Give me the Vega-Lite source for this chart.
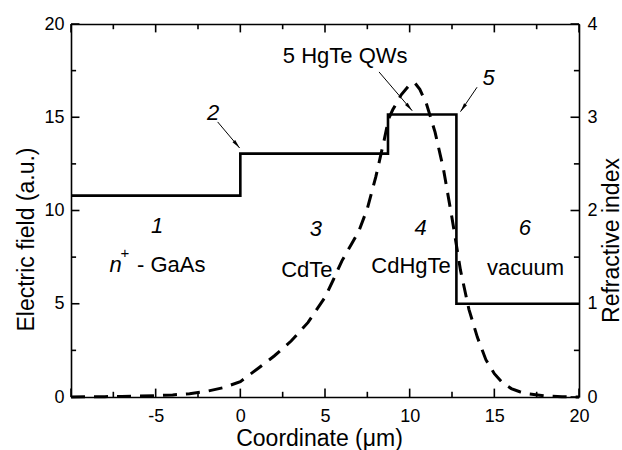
{
  "$schema": "https://vega.github.io/schema/vega-lite/v6.json",
  "width": 508,
  "height": 373,
  "autosize": {"type": "none"},
  "padding": {"left": 71, "top": 24, "right": 43, "bottom": 53},
  "background": "white",
  "config": {
    "view": {"stroke": null},
    "axis": {
      "labelFont": "Liberation Sans", "labelFontSize": 18, "labelColor": "black",
      "titleFont": "Liberation Sans", "titleFontSize": 23, "titleFontWeight": "normal", "titleColor": "black",
      "domainColor": "black", "domainWidth": 1.6, "ticks": false,
      "grid": false, "labelFlush": false, "labelOverlap": false
    },
    "text": {"font": "Liberation Sans", "fontSize": 22, "color": "black", "baseline": "alphabetic"}
  },
  "datasets": {
    "field": [
      {"x": -10, "E": 0}, {"x": -9, "E": 0.01}, {"x": -8, "E": 0.02}, {"x": -7, "E": 0.03},
      {"x": -6, "E": 0.05}, {"x": -5, "E": 0.07}, {"x": -4, "E": 0.11}, {"x": -3, "E": 0.18},
      {"x": -2, "E": 0.3}, {"x": -1, "E": 0.5}, {"x": 0, "E": 0.82}, {"x": 1, "E": 1.5},
      {"x": 2, "E": 2.2}, {"x": 3, "E": 3.0}, {"x": 4, "E": 4.0}, {"x": 5, "E": 5.35},
      {"x": 5.5, "E": 6.3}, {"x": 6, "E": 7.3}, {"x": 6.5, "E": 8.1}, {"x": 7, "E": 8.9},
      {"x": 7.5, "E": 10.1}, {"x": 8, "E": 11.8}, {"x": 8.5, "E": 13.8}, {"x": 8.75, "E": 14.9},
      {"x": 9, "E": 15.4}, {"x": 9.5, "E": 16.2}, {"x": 10, "E": 16.75}, {"x": 10.3, "E": 16.85},
      {"x": 10.6, "E": 16.5}, {"x": 11, "E": 15.7}, {"x": 11.5, "E": 14.2}, {"x": 12, "E": 12.2},
      {"x": 12.5, "E": 9.6}, {"x": 13, "E": 6.8}, {"x": 13.5, "E": 4.7}, {"x": 14, "E": 3.2},
      {"x": 14.5, "E": 2.0}, {"x": 15, "E": 1.25}, {"x": 15.5, "E": 0.75}, {"x": 16, "E": 0.45},
      {"x": 16.5, "E": 0.28}, {"x": 17, "E": 0.17}, {"x": 18, "E": 0.06}, {"x": 19, "E": 0.02},
      {"x": 20, "E": 0}
    ],
    "index": [
      {"o": 1, "x": -10, "n": 2.16}, {"o": 2, "x": 0, "n": 2.16}, {"o": 3, "x": 0, "n": 2.61},
      {"o": 4, "x": 8.72, "n": 2.61}, {"o": 5, "x": 8.72, "n": 3.03}, {"o": 6, "x": 12.76, "n": 3.03},
      {"o": 7, "x": 12.76, "n": 1.0}, {"o": 8, "x": 20, "n": 1.0}
    ],
    "xmajor": [{"v": -10}, {"v": -5}, {"v": 0}, {"v": 5}, {"v": 10}, {"v": 15}, {"v": 20}],
    "xminor": [{"v": -7.5}, {"v": -2.5}, {"v": 2.5}, {"v": 7.5}, {"v": 12.5}, {"v": 17.5}],
    "ymajor": [{"v": 0}, {"v": 5}, {"v": 10}, {"v": 15}, {"v": 20}],
    "yminor": [{"v": 2.5}, {"v": 7.5}, {"v": 12.5}, {"v": 17.5}],
    "arrows": [
      {"id": "2", "x": -1.34, "y": 14.75, "x2": -0.04, "y2": 13.35},
      {"id": "qw", "x": 8.19, "y": 17.43, "x2": 10.15, "y2": 15.35},
      {"id": "5", "x": 13.98, "y": 16.61, "x2": 13.0, "y2": 15.3}
    ],
    "numbers": [
      {"label": "1", "x": -4.92, "y": 8.79},
      {"label": "2", "x": -1.6, "y": 14.85},
      {"label": "3", "x": 4.46, "y": 8.63},
      {"label": "4", "x": 10.64, "y": 8.69},
      {"label": "5", "x": 14.66, "y": 16.73},
      {"label": "6", "x": 16.81, "y": 8.69}
    ],
    "labels": [
      {"label": "5 HgTe QWs", "x": 6.19, "y": 17.91},
      {"label": "CdTe", "x": 3.93, "y": 6.43},
      {"label": "CdHgTe", "x": 10.08, "y": 6.65},
      {"label": "vacuum", "x": 16.84, "y": 6.54}
    ]
  },
  "resolve": {"scale": {"y": "independent"}, "axis": {"x": "independent", "y": "independent"}},
  "layer": [
    {
      "data": {"name": "field"},
      "mark": {"type": "line", "color": "black", "strokeWidth": 3, "strokeDash": [14, 9], "strokeCap": "butt"},
      "encoding": {
        "x": {"field": "x", "type": "quantitative", "scale": {"domain": [-10, 20], "nice": false},
          "axis": {"orient": "bottom", "title": "Coordinate (μm)",
            "values": [-5, 0, 5, 10, 15, 20],
            "labelExpr": "'' + datum.value",
            "labelPadding": 10,
            "titleX": 248, "titleY": 48, "titleBaseline": "alphabetic", "titleAlign": "center"}},
        "y": {"field": "E", "type": "quantitative", "scale": {"domain": [0, 20], "nice": false},
          "axis": {"orient": "left", "title": "Electric field (a.u.)",
            "values": [0, 5, 10, 15, 20],
            "labelPadding": 7,
            "titleAngle": -90, "titleX": -38, "titleY": 215, "titleBaseline": "alphabetic", "titleAlign": "center"}}
      }
    },
    {
      "data": {"name": "index"},
      "mark": {"type": "line", "color": "black", "strokeWidth": 2.6},
      "encoding": {
        "x": {"field": "x", "type": "quantitative", "scale": {"domain": [-10, 20], "nice": false}, "axis": null},
        "y": {"field": "n", "type": "quantitative", "scale": {"domain": [0, 4], "nice": false},
          "axis": {"orient": "right", "title": "Refractive index",
            "values": [0, 1, 2, 3, 4],
            "labelExpr": "'' + datum.value",
            "labelPadding": 8,
            "titleAngle": -90, "titleX": 39, "titleY": 216, "titleBaseline": "alphabetic", "titleAlign": "center"}},
        "order": {"field": "o", "type": "quantitative"}
      }
    },
    {
      "data": {"name": "xmajor"},
      "mark": {"type": "rule", "color": "black", "strokeWidth": 1.6},
      "encoding": {
        "x": {"field": "v", "type": "quantitative", "scale": {"domain": [-10, 20], "nice": false}, "axis": null},
        "y": {"datum": 0, "type": "quantitative", "scale": {"domain": [0, 20], "nice": false}, "axis": null},
        "y2": {"datum": 0.45}
      }
    },
    {
      "data": {"name": "xminor"},
      "mark": {"type": "rule", "color": "black", "strokeWidth": 1.6},
      "encoding": {
        "x": {"field": "v", "type": "quantitative", "scale": {"domain": [-10, 20], "nice": false}, "axis": null},
        "y": {"datum": 0, "type": "quantitative", "scale": {"domain": [0, 20], "nice": false}, "axis": null},
        "y2": {"datum": 0.28}
      }
    },
    {
      "data": {"name": "xmajor"},
      "mark": {"type": "rule", "color": "black", "strokeWidth": 1.6},
      "encoding": {
        "x": {"field": "v", "type": "quantitative", "scale": {"domain": [-10, 20], "nice": false},
          "axis": {"orient": "top", "title": null, "labels": false, "values": [-10, 20]}},
        "y": {"datum": 19.55, "type": "quantitative", "scale": {"domain": [0, 20], "nice": false}, "axis": null},
        "y2": {"datum": 20}
      }
    },
    {
      "data": {"name": "xminor"},
      "mark": {"type": "rule", "color": "black", "strokeWidth": 1.6},
      "encoding": {
        "x": {"field": "v", "type": "quantitative", "scale": {"domain": [-10, 20], "nice": false}, "axis": null},
        "y": {"datum": 19.72, "type": "quantitative", "scale": {"domain": [0, 20], "nice": false}, "axis": null},
        "y2": {"datum": 20}
      }
    },
    {
      "data": {"name": "ymajor"},
      "mark": {"type": "rule", "color": "black", "strokeWidth": 1.6},
      "encoding": {
        "y": {"field": "v", "type": "quantitative", "scale": {"domain": [0, 20], "nice": false}, "axis": null},
        "x": {"datum": -10, "type": "quantitative", "scale": {"domain": [-10, 20], "nice": false}, "axis": null},
        "x2": {"datum": -9.5}
      }
    },
    {
      "data": {"name": "yminor"},
      "mark": {"type": "rule", "color": "black", "strokeWidth": 1.6},
      "encoding": {
        "y": {"field": "v", "type": "quantitative", "scale": {"domain": [0, 20], "nice": false}, "axis": null},
        "x": {"datum": -10, "type": "quantitative", "scale": {"domain": [-10, 20], "nice": false}, "axis": null},
        "x2": {"datum": -9.7}
      }
    },
    {
      "data": {"name": "ymajor"},
      "mark": {"type": "rule", "color": "black", "strokeWidth": 1.6},
      "encoding": {
        "y": {"field": "v", "type": "quantitative", "scale": {"domain": [0, 20], "nice": false}, "axis": null},
        "x": {"datum": 19.5, "type": "quantitative", "scale": {"domain": [-10, 20], "nice": false}, "axis": null},
        "x2": {"datum": 20}
      }
    },
    {
      "data": {"name": "yminor"},
      "mark": {"type": "rule", "color": "black", "strokeWidth": 1.6},
      "encoding": {
        "y": {"field": "v", "type": "quantitative", "scale": {"domain": [0, 20], "nice": false}, "axis": null},
        "x": {"datum": 19.7, "type": "quantitative", "scale": {"domain": [-10, 20], "nice": false}, "axis": null},
        "x2": {"datum": 20}
      }
    },
    {
      "data": {"name": "arrows"},
      "mark": {"type": "rule", "color": "black", "strokeWidth": 1},
      "encoding": {
        "x": {"field": "x", "type": "quantitative", "scale": {"domain": [-10, 20], "nice": false}, "axis": null},
        "x2": {"field": "x2"},
        "y": {"field": "y", "type": "quantitative", "scale": {"domain": [0, 20], "nice": false}, "axis": null},
        "y2": {"field": "y2"}
      }
    },
    {
      "data": {"name": "arrows"},
      "transform": [{"filter": "datum.id === '2'"}],
      "mark": {"type": "point", "shape": "M0,0 L-0.35,1.8 L0.35,1.8 Z", "filled": true, "color": "black", "size": 100, "angle": 139.8, "opacity": 1},
      "encoding": {
        "x": {"field": "x2", "type": "quantitative", "scale": {"domain": [-10, 20], "nice": false}, "axis": null},
        "y": {"field": "y2", "type": "quantitative", "scale": {"domain": [0, 20], "nice": false}, "axis": null}
      }
    },
    {
      "data": {"name": "arrows"},
      "transform": [{"filter": "datum.id === 'qw'"}],
      "mark": {"type": "point", "shape": "M0,0 L-0.35,1.8 L0.35,1.8 Z", "filled": true, "color": "black", "size": 100, "angle": 139.3, "opacity": 1},
      "encoding": {
        "x": {"field": "x2", "type": "quantitative", "scale": {"domain": [-10, 20], "nice": false}, "axis": null},
        "y": {"field": "y2", "type": "quantitative", "scale": {"domain": [0, 20], "nice": false}, "axis": null}
      }
    },
    {
      "data": {"name": "arrows"},
      "transform": [{"filter": "datum.id === '5'"}],
      "mark": {"type": "point", "shape": "M0,0 L-0.35,1.8 L0.35,1.8 Z", "filled": true, "color": "black", "size": 100, "angle": 214.2, "opacity": 1},
      "encoding": {
        "x": {"field": "x2", "type": "quantitative", "scale": {"domain": [-10, 20], "nice": false}, "axis": null},
        "y": {"field": "y2", "type": "quantitative", "scale": {"domain": [0, 20], "nice": false}, "axis": null}
      }
    },
    {
      "data": {"name": "numbers"},
      "mark": {"type": "text", "fontStyle": "italic", "align": "center"},
      "encoding": {
        "x": {"field": "x", "type": "quantitative", "scale": {"domain": [-10, 20], "nice": false}, "axis": null},
        "y": {"field": "y", "type": "quantitative", "scale": {"domain": [0, 20], "nice": false}, "axis": null},
        "text": {"field": "label"}
      }
    },
    {
      "data": {"name": "labels"},
      "mark": {"type": "text", "align": "center"},
      "encoding": {
        "x": {"field": "x", "type": "quantitative", "scale": {"domain": [-10, 20], "nice": false}, "axis": null},
        "y": {"field": "y", "type": "quantitative", "scale": {"domain": [0, 20], "nice": false}, "axis": null},
        "text": {"field": "label"}
      }
    },
    {
      "data": {"values": [{"label": "n", "x": -7.72, "y": 6.72}]},
      "mark": {"type": "text", "fontStyle": "italic", "align": "left"},
      "encoding": {
        "x": {"field": "x", "type": "quantitative", "scale": {"domain": [-10, 20], "nice": false}, "axis": null},
        "y": {"field": "y", "type": "quantitative", "scale": {"domain": [0, 20], "nice": false}, "axis": null},
        "text": {"field": "label"}
      }
    },
    {
      "data": {"values": [{"label": "+", "x": -7.08, "y": 7.45}]},
      "mark": {"type": "text", "align": "left", "fontSize": 15},
      "encoding": {
        "x": {"field": "x", "type": "quantitative", "scale": {"domain": [-10, 20], "nice": false}, "axis": null},
        "y": {"field": "y", "type": "quantitative", "scale": {"domain": [0, 20], "nice": false}, "axis": null},
        "text": {"field": "label"}
      }
    },
    {
      "data": {"values": [{"label": "- GaAs", "x": -6.1, "y": 6.72}]},
      "mark": {"type": "text", "align": "left"},
      "encoding": {
        "x": {"field": "x", "type": "quantitative", "scale": {"domain": [-10, 20], "nice": false}, "axis": null},
        "y": {"field": "y", "type": "quantitative", "scale": {"domain": [0, 20], "nice": false}, "axis": null},
        "text": {"field": "label"}
      }
    }
  ]
}
